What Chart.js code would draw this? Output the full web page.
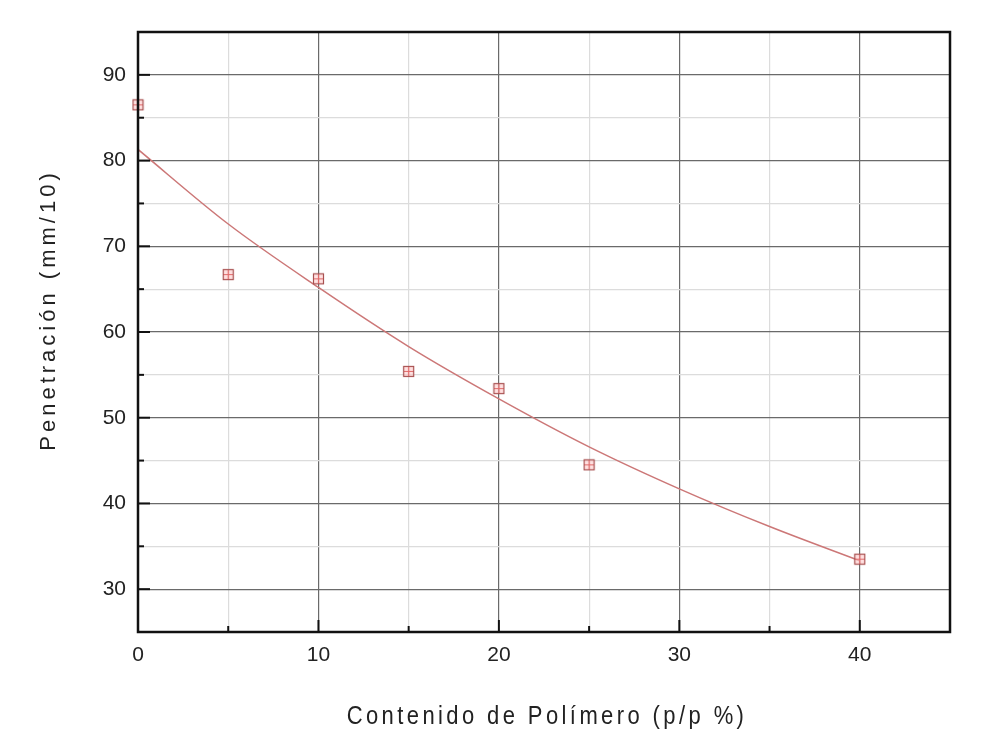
<!DOCTYPE html>
<html>
<head>
<meta charset="utf-8">
<script src="https://cdn.jsdelivr.net/npm/chart.js@4/dist/chart.umd.min.js"></script>
<style>
  html, body { margin: 0; padding: 0; background: #fff; }
  #wrap { width: 991px; height: 731px; }
</style>
</head>
<body>
<div id="wrap"><canvas id="penChart"></canvas></div>
<script>
// measured points
const polymerContent = [0, 5, 10, 15, 20, 25, 40];
const penetration = [86.5, 66.7, 66.2, 55.4, 53.4, 44.5, 33.5];

// fitted curve
const fitX = [0, 5, 10, 15, 20, 25, 30, 35, 40];
const fitY = [81.3, 72.6, 65.2, 58.3, 52.2, 46.6, 41.7, 37.3, 33.3];

// axis tick labels
const xTickLabels = [0, 10, 20, 30, 40];
const yTickLabels = [30, 40, 50, 60, 70, 80, 90];

const xTitle = 'Contenido de Polímero (p/p %)';
const yTitle = 'Penetración (mm/10)';

// square marker with a cross inside
function makeMarker() {
    const c = document.createElement('canvas');
    c.width = 13; c.height = 13;
    const g = c.getContext('2d');
    g.fillStyle = 'rgba(255,205,205,0.6)';
    g.fillRect(1, 1, 11, 11);
    g.strokeStyle = '#a85050';
    g.lineWidth = 1.2;
    g.strokeRect(1.5, 1.5, 10, 10);
    g.beginPath();
    g.moveTo(2, 6.5); g.lineTo(11, 6.5);
    g.moveTo(6.5, 2); g.lineTo(6.5, 11);
    g.strokeStyle = '#e06a6a';
    g.stroke();
    return c;
}

const frameAndTitles = {
    id: 'frameAndTitles',
    afterDatasetsDraw(chart) {
        const { ctx, chartArea: a, scales } = chart;
        ctx.save();
        // inward ticks
        ctx.strokeStyle = '#111';
        ctx.lineWidth = 2;
        scales.x.ticks.forEach(t => {
            if (t.value <= scales.x.min || t.value >= scales.x.max) return;
            const px = scales.x.getPixelForValue(t.value);
            const len = t.value % 10 === 0 ? 12 : 6;
            ctx.beginPath();
            ctx.moveTo(px, a.bottom);
            ctx.lineTo(px, a.bottom - len);
            ctx.stroke();
        });
        scales.y.ticks.forEach(t => {
            if (t.value <= scales.y.min || t.value >= scales.y.max) return;
            const py = scales.y.getPixelForValue(t.value);
            const len = t.value % 10 === 0 ? 12 : 6;
            ctx.beginPath();
            ctx.moveTo(a.left, py);
            ctx.lineTo(a.left + len, py);
            ctx.stroke();
        });
        // frame
        ctx.strokeStyle = '#111';
        ctx.lineWidth = 2.5;
        ctx.strokeRect(a.left, a.top, a.right - a.left, a.bottom - a.top);

        // axis titles
        ctx.fillStyle = '#222';
        ctx.textAlign = 'center';
        ctx.textBaseline = 'middle';
        ctx.save();
        ctx.font = '22px "Liberation Sans", Arial, sans-serif';
        ctx.letterSpacing = '3.4px';
        ctx.translate(547, 717);
        ctx.scale(1, 1.2);
        ctx.fillText(xTitle, 0, 0);
        ctx.restore();

        ctx.font = '22px "Liberation Sans", Arial, sans-serif';
        ctx.letterSpacing = '4px';
        ctx.translate(49, 310);
        ctx.rotate(-Math.PI / 2);
        ctx.fillText(yTitle, 0, 0);
        ctx.restore();
    }
};

new Chart(document.getElementById('penChart').getContext('2d'), {
    type: 'scatter',
    data: {
        datasets: [{
            label: 'Ajuste',
            data: fitX.map((x, i) => ({ x: x, y: fitY[i] })),
            showLine: true,
            borderColor: '#cc7777',
            borderWidth: 1.5,
            pointRadius: 0,
            cubicInterpolationMode: 'monotone',
            order: 2
        }, {
            label: 'Penetración',
            data: polymerContent.map((x, i) => ({ x: x, y: penetration[i] })),
            pointStyle: makeMarker(),
            pointRadius: 6,
            clip: false,
            order: 1
        }]
    },
    options: {
        responsive: true,
        maintainAspectRatio: false,
        animation: false,
        layout: { padding: { top: 32, right: 41, left: 0, bottom: 0 } },
        plugins: {
            legend: { display: false },
            tooltip: { enabled: false }
        },
        scales: {
            x: {
                type: 'linear',
                min: 0,
                max: 45,
                afterFit: s => { s.height = 99; },
                ticks: {
                    stepSize: 5,
                    autoSkip: false,
                    maxRotation: 0,
                    padding: 11,
                    color: '#222',
                    font: { size: 21, family: '"Liberation Sans", Arial, sans-serif' },
                    callback: v => xTickLabels.includes(v) ? String(v) : ''
                },
                grid: {
                    drawTicks: false,
                    lineWidth: 1.2,
                    color: c => (c.tick && c.tick.value % 10 === 0) ? '#6a6a6a' : '#dcdcdc'
                },
                border: { display: false }
            },
            y: {
                type: 'linear',
                min: 25,
                max: 95,
                afterFit: s => { s.width = 138; },
                ticks: {
                    stepSize: 5,
                    autoSkip: false,
                    padding: 12,
                    color: '#222',
                    font: { size: 21, family: '"Liberation Sans", Arial, sans-serif' },
                    callback: v => yTickLabels.includes(v) ? String(v) : ''
                },
                grid: {
                    drawTicks: false,
                    lineWidth: 1.2,
                    color: c => (c.tick && c.tick.value % 10 === 0) ? '#6a6a6a' : '#dcdcdc'
                },
                border: { display: false }
            }
        }
    },
    plugins: [frameAndTitles]
});
</script>
</body>
</html>
